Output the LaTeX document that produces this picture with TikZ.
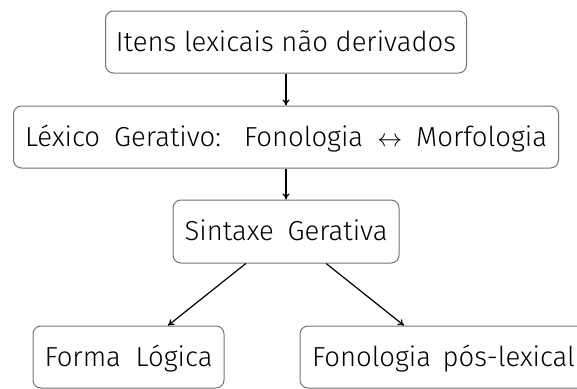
\documentclass[tikz,border=0pt]{standalone}
\usepackage{fontspec}
\setmainfont{Fira Sans Light}
\usetikzlibrary{arrows.meta}
\newlength\natw
\newcommand{\spread}[2]{\settowidth{\natw}{#2}\ifdim\natw<#1\relax\makebox[#1][s]{#2}\else#2\fi}
\begin{document}
\begin{tikzpicture}[x=1pt,y=-1pt,
  box/.style={draw=black!55,line width=1pt,rounded corners=8pt,inner sep=0pt,
    minimum height=62pt,text height=18.9pt,text depth=0pt,
    font=\fontsize{27.5}{32}\selectfont,text=black},
  arr/.style={-{To[length=6pt,width=7pt]},line width=1.2pt,black}]
\useasboundingbox (0,0) rectangle (577,388);
\clip (0,0) rectangle (577,388);
\node[box,minimum width=361pt] (n1) at (286,42) {\spread{330pt}{Itens lexicais não derivados}};
\node[box,minimum width=545pt] (n2) at (286,137) {\spread{522pt}{Léxico Gerativo: Fonologia $\leftrightarrow$ Morfologia}};
\node[box,minimum width=226pt,minimum height=63pt] (n3) at (286,231.5) {\spread{203pt}{Sintaxe Gerativa}};
\node[box,minimum width=191pt] (n4) at (128.5,357) {\spread{168pt}{Forma Lógica}};
\node[box,minimum width=287pt] (n5) at (443.5,357) {\spread{263pt}{Fonologia pós-lexical}};
\draw[arr] (n1) -- (n2);
\draw[arr] (n2) -- (n3);
\draw[arr] (n3) -- (n4);
\draw[arr] (n3) -- (n5);
\end{tikzpicture}
\end{document}
